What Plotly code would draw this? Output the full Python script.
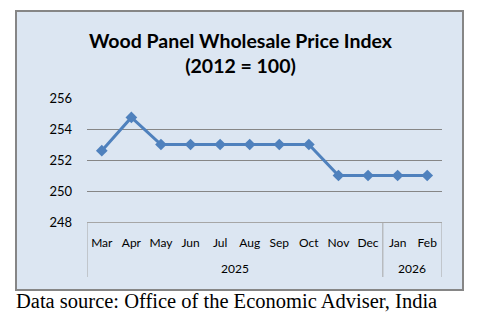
import plotly.graph_objects as go

months = ["Mar", "Apr", "May", "Jun", "Jul", "Aug", "Sep", "Oct", "Nov", "Dec", "Jan", "Feb"]
years = ["2025"] * 10 + ["2026"] * 2
values = [252.6, 254.75, 253.0, 253.0, 253.0, 253.0, 253.0, 253.0, 251.0, 251.0, 251.0, 251.0]
y_ticks = [248, 250, 252, 254, 256]

W, H = 477, 322
L, R, T, B = 87, 35, 98, 100
PW, PH = W - L - R, H - T - B

def px(x):
    return (x - L) / PW

def py(y):
    return (H - B - y) / PH

BLUE = "#4F81BD"
FONT = "Lato, 'Open Sans', sans-serif"
AXC = "#A6A6A6"

idx = list(range(len(months)))

fig = go.Figure()
fig.add_trace(go.Scatter(
    x=idx, y=values, mode="lines+markers",
    line=dict(color=BLUE, width=3),
    marker=dict(symbol="diamond", size=9, color=BLUE),
    showlegend=False, cliponaxis=False,
))

# year groups: boundaries and centres derived from the years list
groups = []
for i, yv in enumerate(years):
    if not groups or groups[-1][0] != yv:
        groups.append([yv, i, i])
    else:
        groups[-1][2] = i

shapes = [
    dict(type="rect", xref="paper", yref="paper",
         x0=px(16), x1=px(463), y0=py(290), y1=py(11),
         fillcolor="#DCE6F2", line=dict(color="#868686", width=2), layer="below"),
]
annotations = []
bounds = [groups[0][1] - 0.5] + [g[2] + 0.5 for g in groups]
for b in bounds:
    shapes.append(dict(type="line", xref="x", yref="paper", x0=b, x1=b,
                       y0=py(222), y1=py(277), line=dict(color=AXC, width=1)))
for name, a, z in groups:
    annotations.append(dict(text=name, xref="x", yref="paper", x=(a + z) / 2, y=py(268),
                            xanchor="center", yanchor="middle", showarrow=False,
                            font=dict(family=FONT, size=12, color="#000000")))

annotations += [
    dict(text="<b>Wood Panel Wholesale Price Index<br>(2012 = 100)</b>",
         xref="paper", yref="paper", x=px(241), y=py(53), xanchor="center", yanchor="middle",
         showarrow=False, font=dict(family=FONT, size=19.5, color="#000000")),
    dict(text="Data source: Office of the Economic Adviser, India",
         xref="paper", yref="paper", x=px(14), y=py(301), xanchor="left", yanchor="middle",
         showarrow=False, font=dict(family="'Liberation Serif', 'Times New Roman', serif", size=20.5, color="#000000")),
]

fig.update_layout(
    width=W, height=H,
    margin=dict(l=L, r=R, t=T, b=B),
    paper_bgcolor="white",
    plot_bgcolor="rgba(0,0,0,0)",
    font=dict(family=FONT, size=12, color="#000000"),
    xaxis=dict(
        tickmode="array", tickvals=idx, ticktext=months,
        showgrid=False, showline=True, linecolor=AXC, linewidth=1,
        ticks="", tickfont=dict(size=12, color="#000000"), tickangle=0,
        ticklabelstandoff=10,
        range=[-0.5, len(months) - 0.5], zeroline=False,
    ),
    yaxis=dict(
        range=[248, 256], tickvals=y_ticks, ticktext=[str(v) for v in y_ticks],
        showgrid=True, gridcolor="#868686", gridwidth=1,
        zeroline=False, showline=False, ticks="",
        tickfont=dict(size=13, color="#000000"),
        ticklabelstandoff=14,
    ),
    shapes=shapes,
    annotations=annotations,
)

fig.write_html("out.html")
